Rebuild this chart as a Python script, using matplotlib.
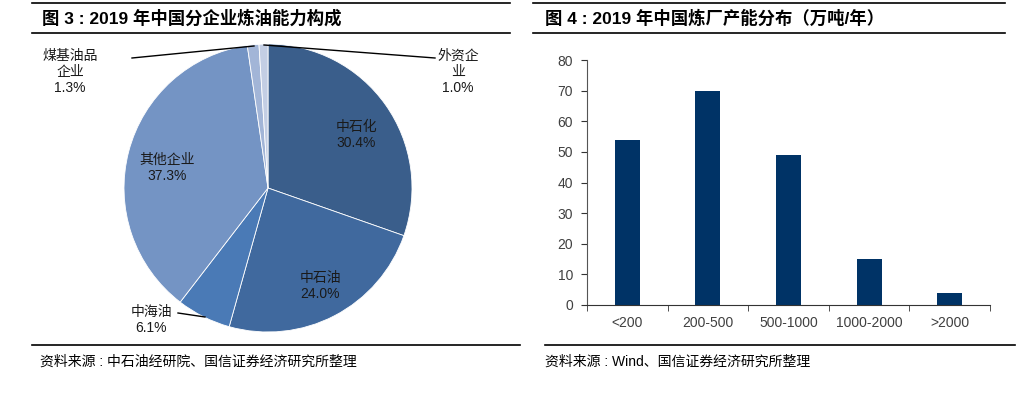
import matplotlib
matplotlib.use("Agg")
import matplotlib.pyplot as plt
from matplotlib.lines import Line2D

plt.rcParams['font.family'] = ['Noto Sans CJK SC', 'DejaVu Sans']
MIX = ['Liberation Sans', 'Noto Sans CJK SC', 'DejaVu Sans']

# Data
pie_labels = ['中石化', '中石油', '中海油', '其他企业', '煤基油品企业', '外资企业']
pie_values = [30.4, 24.0, 6.1, 37.3, 1.3, 1.0]
pie_colors = ['#3A5E8B', '#40699E', '#4A7AB6', '#7494C4', '#A2B5D7', '#C3CEE4']

bar_categories = ['<200', '200-500', '500-1000', '1000-2000', '>2000']
bar_values = [54, 70, 49, 15, 4]

W, H = 1023, 398
fig = plt.figure(figsize=(W / 100, H / 100), dpi=100)

def fx(x):
    return x / W

def fy(y):
    return 1 - y / H

# Header/footer lines
for (x0, x1, y) in [(32, 510, 3), (32, 510, 33), (32, 520, 345),
                    (533, 1005, 3), (533, 1005, 33), (545, 1015, 345)]:
    fig.add_artist(Line2D([fx(x0), fx(x1)], [fy(y), fy(y)], color='black', lw=1.2,
                          transform=fig.transFigure))

fig.text(fx(42), fy(18), '图 3 : 2019 年中国分企业炼油能力构成', fontsize=12.5,
         fontweight='bold', va='center', ha='left', family=MIX)
fig.text(fx(545), fy(18), '图 4 : 2019 年中国炼厂产能分布（万吨/年）', fontsize=12.5,
         fontweight='bold', va='center', ha='left', family=MIX)
fig.text(fx(40), fy(362), '资料来源 : 中石油经研院、国信证券经济研究所整理', fontsize=10,
         va='center', ha='left', family=MIX)
fig.text(fx(545), fy(362), '资料来源 : Wind、国信证券经济研究所整理', fontsize=10,
         va='center', ha='left', family=MIX)

# Pie
cx, cy, r = 268, 188, 144
axp = fig.add_axes([fx(cx - r), fy(cy + r), 2 * r / W, 2 * r / H])
wedges, _ = axp.pie(pie_values, colors=pie_colors, startangle=90, counterclock=False,
                    radius=1.0, wedgeprops=dict(edgecolor='white', linewidth=0.6))
axp.set_xlim(-1, 1)
axp.set_ylim(-1, 1)
axp.set_aspect('auto')
axp.axis('off')

lab_kw = dict(fontsize=10, ha='center', va='center', color='#1a1a1a', linespacing=1.2,
              family=MIX)
fig.text(fx(356), fy(135), '中石化\n30.4%', **lab_kw)
fig.text(fx(320), fy(286), '中石油\n24.0%', **lab_kw)
fig.text(fx(167), fy(168), '其他企业\n37.3%', **lab_kw)
fig.text(fx(151), fy(320), '中海油\n6.1%', **lab_kw)
fig.text(fx(70), fy(72), '煤基油品\n企业\n1.3%', **lab_kw)
fig.text(fx(458), fy(72), '外资企\n业\n1.0%', **lab_kw)

# leader lines
for pts in [[(132, 58), (254, 46)], [(264, 45), (435, 58)], [(178, 313), (205, 317)]]:
    xs = [fx(p[0]) for p in pts]
    ys = [fy(p[1]) for p in pts]
    fig.add_artist(Line2D(xs, ys, color='black', lw=1.0, transform=fig.transFigure))

# Bar chart
axb = fig.add_axes([fx(587), fy(305), (990 - 587) / W, (305 - 60) / H])
xs = range(len(bar_categories))
axb.bar(xs, bar_values, width=0.31, color='#003366')
axb.set_xlim(-0.5, len(bar_categories) - 0.5)
axb.set_ylim(0, 80)
axb.set_yticks(range(0, 81, 10))
axb.set_xticks(list(xs))
axb.set_xticklabels(bar_categories)
axb.set_xticks([i - 0.5 for i in range(len(bar_categories) + 1)], minor=True)
axb.tick_params(axis='x', which='major', length=0, pad=8, labelsize=10, labelcolor='#404040')
axb.tick_params(axis='x', which='minor', length=4, direction='out', color='#333333')
axb.tick_params(axis='y', length=4, direction='out', labelsize=10, labelcolor='#404040',
                color='#333333', pad=6)
for lbl in axb.get_xticklabels() + axb.get_yticklabels():
    lbl.set_family(['Liberation Sans', 'DejaVu Sans'])
for s in ['top', 'right']:
    axb.spines[s].set_visible(False)
axb.spines['left'].set_color('#555555')
axb.spines['bottom'].set_color('#333333')

fig.savefig('out.png', dpi=100)
